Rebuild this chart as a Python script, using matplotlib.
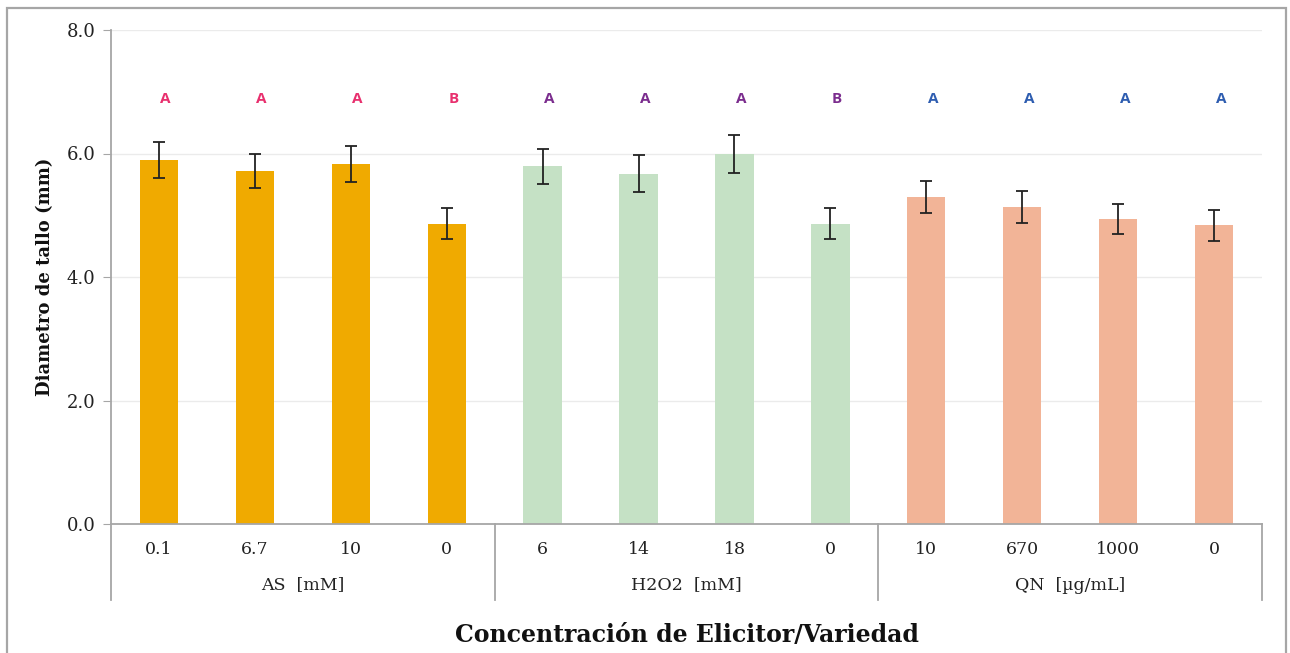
import matplotlib
matplotlib.use("Agg")
import matplotlib.pyplot as plt
from matplotlib.patches import Rectangle
from matplotlib.transforms import blended_transform_factory
import numpy as np

# Data
concentrations = ["0.1", "6.7", "10", "0", "6", "14", "18", "0", "10", "670", "1000", "0"]
groups = ["AS  [mM]", "H2O2  [mM]", "QN  [µg/mL]"]
group_sizes = [4, 4, 4]
diameter = [5.89, 5.72, 5.83, 4.86, 5.79, 5.67, 5.99, 4.86, 5.30, 5.13, 4.94, 4.84]
error = [0.29, 0.28, 0.29, 0.25, 0.29, 0.30, 0.31, 0.25, 0.26, 0.26, 0.25, 0.25]
letters = ["A", "A", "A", "B", "A", "A", "A", "B", "A", "A", "A", "A"]
letter_y = 6.88
yticks = [0.0, 2.0, 4.0, 6.0, 8.0]

group_colors = ["#F0AA00", "#C5E1C5", "#F2B497"]
letter_colors = ["#E8306E", "#7B2D8E", "#2E5DB0"]

serif = ["DejaVu Serif"]

fig = plt.figure(figsize=(12.9, 6.53), dpi=100)
fig.patch.set_facecolor("white")
W, H = 1290, 653

# outer frame
fig.patches.append(Rectangle((7 / W, -0.02), (1286 - 7) / W, 1.02 - 8 / H,
                             transform=fig.transFigure, fill=False,
                             edgecolor="#A6A6A6", linewidth=1.6, zorder=0))

ax = fig.add_axes([111 / W, 1 - 524 / H, (1262 - 111) / W, (524 - 30) / H])

x = np.arange(len(diameter))
bar_colors = []
lcolors = []
for gi, n in enumerate(group_sizes):
    bar_colors += [group_colors[gi]] * n
    lcolors += [letter_colors[gi]] * n

ax.bar(x, diameter, width=0.4, color=bar_colors, zorder=2)
ax.errorbar(x, diameter, yerr=error, fmt="none", ecolor="#222222",
            elinewidth=1.3, capsize=4, capthick=1.3, zorder=3)

for xi, lt, c in zip(x, letters, lcolors):
    ax.text(xi + 0.07, letter_y, lt, ha="center", va="center", color=c,
            fontsize=11, fontweight="bold", family=["Open Sans", "DejaVu Sans"])

ax.set_xlim(-0.5, len(diameter) - 0.5)
ax.set_ylim(0, 8)
ax.set_yticks(yticks)
ax.set_yticklabels([f"{v:.1f}" for v in yticks], family=serif, fontsize=13,
                   color="#222222")
ax.yaxis.grid(True, color="#EBEBEB", linewidth=1.0, zorder=0)
ax.set_axisbelow(True)
ax.tick_params(axis="y", length=6, color="#A6A6A6", pad=5)

for s in ["top", "right"]:
    ax.spines[s].set_visible(False)
ax.spines["left"].set_color("#A6A6A6")
ax.spines["left"].set_linewidth(1.3)
ax.spines["bottom"].set_color("#A6A6A6")
ax.spines["bottom"].set_linewidth(1.3)

ax.set_xticks(x)
ax.set_xticklabels(concentrations, family=serif, fontsize=12.5, color="#222222")
ax.tick_params(axis="x", length=0, pad=12)

trans = blended_transform_factory(ax.transData, ax.transAxes)
ax_h_px = 524 - 30
drop = (600 - 524) / ax_h_px
bounds = np.concatenate([[-0.5], np.cumsum(group_sizes) - 0.5])
for b in bounds:
    ax.plot([b, b], [0, -drop], transform=trans, color="#A6A6A6", lw=1.3,
            clip_on=False)
start = -0.5
for g, n in zip(groups, group_sizes):
    ax.text(start + n / 2, -(585 - 524) / ax_h_px, g, transform=trans,
            ha="center", va="center", family=serif, fontsize=12.5, color="#222222")
    start += n

fig.text((111 + 1262) / 2 / W, 1 - 635 / H, "Concentración de Elicitor/Variedad",
         ha="center", va="center", family=serif, fontsize=17, fontweight="bold",
         color="#111111")
fig.text(45 / W, 1 - 277 / H, "Diametro de tallo (mm)", rotation=90,
         ha="center", va="center", family=serif, fontsize=13, fontweight="bold",
         color="#111111")

fig.savefig("out.png", dpi=100)
